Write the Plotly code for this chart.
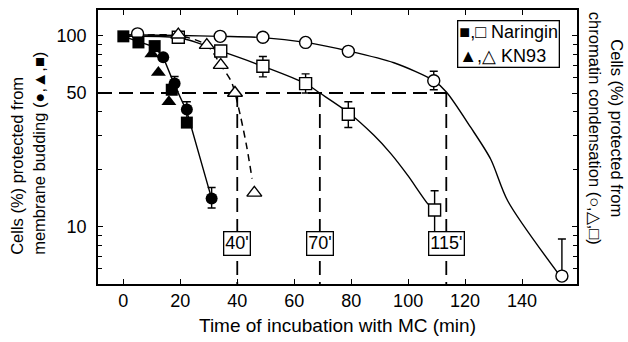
import math
import plotly.graph_objects as go

# ---------------- data ----------------
# filled symbols: membrane budding
fsq_x = [0, 5.3, 11, 17, 22.3]
fsq_y = [99, 92, 88, 52, 35]
ftri_x = [10, 12.3, 16]
ftri_y = [80, 64, 45]
fcir_x = [14, 18, 22.3, 31]
fcir_y = [77, 56, 41, 14]
fcir_err_plus = [0, 5, 4, 2]
fcir_err_minus = [0, 5, 4, 1.5]
bud_line_x = [0, 5.3, 11, 14, 18, 22.3, 31]
bud_line_y = [99, 93, 87, 77, 55, 40, 14]

# open symbols: chromatin condensation
ocir_x = [5, 34, 49, 64, 79, 109, 154]
ocir_y = [102, 99, 98, 92, 82.6, 58, 5.5]
ocir_err_plus = [0, 0, 0, 0, 3, 7, 3.1]
ocir_err_minus = [0, 0, 0, 0, 3, 6, 0]
ocir_fit_x = [0, 20, 34, 49, 64, 79, 95, 109, 113.5, 122, 129, 135, 153]
ocir_fit_y = [101, 100, 99, 97.5, 92, 83, 72, 58, 50.5, 33, 22.5, 13.6, 5.6]

osq_x = [19.3, 34.2, 49, 64, 79, 109.3]
osq_y = [98, 83, 69, 56, 38.7, 12.2]
osq_err_plus = [3, 0, 8.6, 7, 6.3, 3.2]
osq_err_minus = [3, 0, 8.3, 6, 5.7, 2.9]
osq_fit_x = [0, 20, 34, 49, 64, 69, 79, 88, 94, 100, 107, 109.3]
osq_fit_y = [99, 97, 83, 69, 56, 50, 39.5, 30, 24, 18.4, 13.1, 12.2]

otri_x = [19.3, 29.3, 34.2, 39.2, 46]
otri_y = [101, 89, 70, 50, 15]
otri_fit_x = [0, 19.3, 29.3, 34.2, 38, 41, 43.4, 45.2]
otri_fit_y = [99, 100, 89, 70, 57, 38.6, 25.8, 17.8]

# reference (50 %) lines and labels
half_value = 50
ref_x = [40, 69, 113.4]
ref_labels = ["40'", "70'", "115'"]
label_y = 8.1

x_range = [-8.9, 159.3]
y_range = [5, 136]
x_ticks = [0, 20, 40, 60, 80, 100, 120, 140]
y_ticks = [10, 50, 100]
y_minor = [6, 7, 8, 9, 20, 30, 40, 60, 70, 80, 90]

FONT = "Liberation Sans, Arial, Helvetica, sans-serif"
BLACK = "black"

fig = go.Figure()

# reference dashed lines
fig.add_trace(go.Scatter(x=[x_range[0], ref_x[-1]], y=[half_value, half_value], mode="lines",
                         line=dict(color=BLACK, width=1.8, dash="14px,7px"), hoverinfo="skip"))
for rx in ref_x:
    fig.add_trace(go.Scatter(x=[rx, rx], y=[half_value, y_range[0]], mode="lines",
                             line=dict(color=BLACK, width=1.8, dash="14px,7px"), hoverinfo="skip"))

# fitted curves
fig.add_trace(go.Scatter(x=bud_line_x, y=bud_line_y, mode="lines",
                         line=dict(color=BLACK, width=1.4)))
fig.add_trace(go.Scatter(x=ocir_fit_x, y=ocir_fit_y, mode="lines",
                         line=dict(color=BLACK, width=1.4, shape="spline", smoothing=0.8)))
fig.add_trace(go.Scatter(x=osq_fit_x, y=osq_fit_y, mode="lines",
                         line=dict(color=BLACK, width=1.4, shape="spline", smoothing=0.8)))
fig.add_trace(go.Scatter(x=otri_fit_x, y=otri_fit_y, mode="lines",
                         line=dict(color=BLACK, width=1.5, dash="7px,5px", shape="spline", smoothing=0.8)))

err_style = dict(type="data", color=BLACK, thickness=1.4, width=4, symmetric=False)

# open markers
fig.add_trace(go.Scatter(x=ocir_x, y=ocir_y, mode="markers",
                         marker=dict(symbol="circle", size=12, color="white", line=dict(color=BLACK, width=1.4)),
                         error_y=dict(array=ocir_err_plus, arrayminus=ocir_err_minus, **err_style)))
fig.add_trace(go.Scatter(x=osq_x, y=osq_y, mode="markers",
                         marker=dict(symbol="square", size=12, color="white", line=dict(color=BLACK, width=1.4)),
                         error_y=dict(array=osq_err_plus, arrayminus=osq_err_minus, **err_style)))
fig.add_trace(go.Scatter(x=otri_x, y=otri_y, mode="markers",
                         marker=dict(symbol="triangle-up", size=13, color="white", line=dict(color=BLACK, width=1.4))))

# filled markers
fig.add_trace(go.Scatter(x=fsq_x, y=fsq_y, mode="markers",
                         marker=dict(symbol="square", size=12, color=BLACK)))
fig.add_trace(go.Scatter(x=ftri_x, y=ftri_y, mode="markers",
                         marker=dict(symbol="triangle-up", size=13, color=BLACK)))
fig.add_trace(go.Scatter(x=fcir_x, y=fcir_y, mode="markers",
                         marker=dict(symbol="circle", size=12, color=BLACK),
                         error_y=dict(array=fcir_err_plus, arrayminus=fcir_err_minus, **err_style)))

annotations = []
for rx, lab in zip(ref_x, ref_labels):
    annotations.append(dict(x=rx, y=math.log10(label_y), xref="x", yref="y", text=lab, showarrow=False,
                            xanchor="center", yanchor="middle",
                            font=dict(family=FONT, size=18, color=BLACK), bgcolor="white",
                            bordercolor=BLACK, borderwidth=1.3, borderpad=1))

# legend box
annotations.append(dict(x=0.857, y=0.875, xref="paper", yref="paper", xanchor="center", yanchor="middle",
                        text="■,□ Naringin<br>▲,△ KN93", showarrow=False, align="left",
                        font=dict(family=FONT, size=18, color=BLACK), bgcolor="white",
                        bordercolor=BLACK, borderwidth=1.3, borderpad=1))

# axis titles
annotations.append(dict(x=0.5, y=-0.152, xref="paper", yref="paper", showarrow=False,
                        xanchor="center", yanchor="middle",
                        text="Time of incubation with MC (min)",
                        font=dict(family=FONT, size=19, color=BLACK)))
annotations.append(dict(x=-0.146, y=0.0976, xref="paper", yref="paper", showarrow=False,
                        xanchor="center", yanchor="bottom", textangle=-90, align="left",
                        text="Cells (%) protected from<br>membrane budding (●,▲,■)",
                        font=dict(family=FONT, size=16.5, color=BLACK)))
annotations.append(dict(x=1.0616, y=0.568, xref="paper", yref="paper", showarrow=False,
                        xanchor="center", yanchor="middle", textangle=90, align="center",
                        text="Cells (%) protected from<br>chromatin condensation (○,△,□)",
                        font=dict(family=FONT, size=16.5, color=BLACK)))

fig.update_layout(
    width=628, height=342,
    margin=dict(l=98, r=51, t=8, b=58),
    paper_bgcolor="white", plot_bgcolor="white",
    showlegend=False,
    font=dict(family=FONT, size=18, color=BLACK),
    annotations=annotations,
    xaxis=dict(range=x_range, tickvals=x_ticks, ticks="inside", ticklen=5, tickwidth=1.3,
               tickcolor=BLACK, showline=True, linecolor=BLACK, linewidth=1.6, mirror="ticks",
               showgrid=False, zeroline=False, tickfont=dict(family=FONT, size=18, color=BLACK)),
    yaxis=dict(type="log", range=[math.log10(y_range[0]), math.log10(y_range[1])],
               tickvals=y_ticks, ticktext=[str(v) for v in y_ticks],
               ticks="inside", ticklen=5, tickwidth=1.3, tickcolor=BLACK,
               minor=dict(tickmode="array", tickvals=y_minor, ticks="inside", ticklen=4,
                          tickwidth=1.2, tickcolor=BLACK, showgrid=False),
               showline=True, linecolor=BLACK, linewidth=1.6, mirror="ticks",
               showgrid=False, zeroline=False, ticklabelstandoff=6,
               tickfont=dict(family=FONT, size=18, color=BLACK)),
)

fig.write_html("out.html")
